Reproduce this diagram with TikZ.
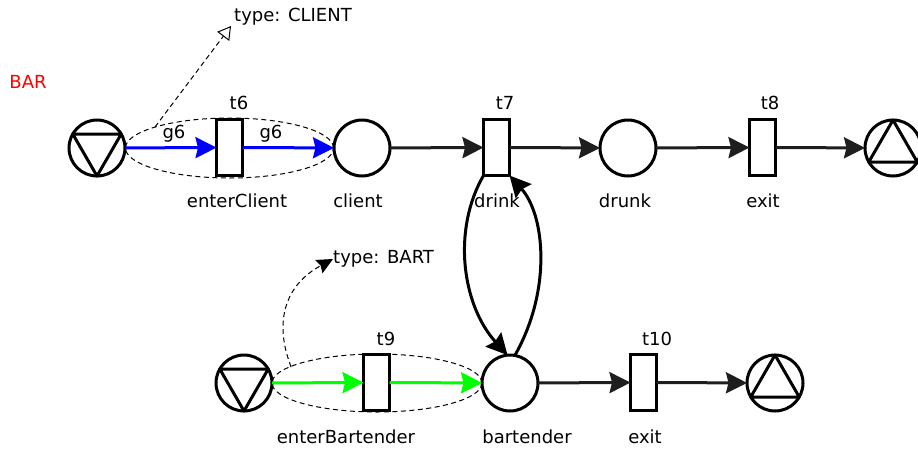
\documentclass[tikz,border=0pt]{standalone}
\usepackage{fontspec}
\setmainfont{DejaVu Sans}
\usetikzlibrary{arrows.meta}
\definecolor{arcgray}{HTML}{1E1E1E}
\begin{document}
\begin{tikzpicture}[x=1pt,y=-1pt,font=\fontsize{18}{20}\selectfont,
  place/.style={circle,draw,line width=3pt,minimum size=56pt,inner sep=0pt,outer sep=0pt},
  trans/.style={rectangle,draw,line width=3pt,minimum width=26pt,minimum height=56pt,inner sep=0pt,outer sep=0pt},
  flow/.style={line width=3pt,draw=arcgray,-{Stealth[length=21pt,width=21pt,inset=2.5pt]}},
  bflow/.style={flow,draw=blue,-{Stealth[length=21pt,width=21pt,inset=2.5pt,fill=blue]}},
  gflow/.style={flow,draw=green,-{Stealth[length=21pt,width=21pt,inset=2.5pt,fill=green]}},
  loopflow/.style={line width=3pt,draw=black,-{Stealth[length=21pt,width=21pt,inset=2.5pt]}},
  group/.style={draw,dashed,dash pattern=on 5pt off 3.5pt,line width=1pt},
  lbl/.style={inner sep=0pt,anchor=center},
  tri/.style={line width=3pt,line join=round}]
\useasboundingbox (0,0) rectangle (918,448);

% places and transitions, top row
\node[place] (s1) at (97,148) {};
\node[trans] (t6) at (229.5,147.5) {};
\node[place] (client) at (362,148) {};
\node[trans] (t7) at (496.5,147.5) {};
\node[place] (drunk) at (628,148) {};
\node[trans] (t8) at (762.5,147.5) {};
\node[place] (e1) at (893,148) {};

% bottom row
\node[place] (s2) at (244,383) {};
\node[trans] (t9) at (376.5,382.5) {};
\node[place] (bartender) at (510,383) {};
\node[trans] (t10) at (643.5,382.5) {};
\node[place] (e2) at (775,383) {};

% triangles
\draw[tri] ([shift={(-90:28pt)}]s1.center) -- ([shift={(30:28pt)}]s1.center) -- ([shift={(150:28pt)}]s1.center) -- cycle;
\draw[tri] ([shift={(-90:28pt)}]s2.center) -- ([shift={(30:28pt)}]s2.center) -- ([shift={(150:28pt)}]s2.center) -- cycle;
\draw[tri] ([shift={(90:28pt)}]e1.center) -- ([shift={(-30:28pt)}]e1.center) -- ([shift={(210:28pt)}]e1.center) -- cycle;
\draw[tri] ([shift={(90:28pt)}]e2.center) -- ([shift={(-30:28pt)}]e2.center) -- ([shift={(210:28pt)}]e2.center) -- cycle;

% labels
\node[lbl,text=red] (bar) at (28,82) {BAR};
\node[lbl] (lt6) at (239,103) {t6};
\node[lbl] (lt7) at (505,103) {t7};
\node[lbl] (lt8) at (770,103) {t8};
\node[lbl] (lenc) at (237,201) {enterClient};
\node[lbl] (lcl) at (358,201) {client};
\node[lbl] (ldr) at (497,201) {drink};
\node[lbl] (ldk) at (625,201) {drunk};
\node[lbl] (lex1) at (763,201) {exit};
\node[lbl] (lt9) at (386,339) {t9};
\node[lbl] (lt10) at (657,339) {t10};
\node[lbl] (lenb) at (346,437) {enterBartender};
\node[lbl] (lbt) at (527,437) {bartender};
\node[lbl] (lex2) at (645,437) {exit};
\node[lbl] (g6a) at (174,134) {g6};
\node[lbl] (g6b) at (271,134) {g6};
\node[lbl,anchor=west] (tcl) at (234,17) {type: CLIENT};
\node[lbl,anchor=west] (tbt) at (333,259) {type: BART};

% dashed groups
\draw[group] (229.5,148) ellipse [x radius=104pt, y radius=30pt];
\draw[group] (377,383) ellipse [x radius=105pt, y radius=29pt];
\coordinate (gc) at (155,127);
\coordinate (gb) at (291,367);
\coordinate (gt) at (231,26);
\draw[group,-{Triangle[open,length=13pt,width=15pt]}] (gc) -- (gt);
\draw[group,-{Stealth[length=16pt,width=15pt,inset=2pt]}] (gb) -- (288,358) .. controls (276,320) and (285,285) .. (tbt.west);

% arcs
\draw[bflow] (s1) -- (t6);
\draw[bflow] (t6) -- (client);
\draw[flow] (client) -- (t7);
\draw[flow] (t7) -- (drunk);
\draw[flow] (drunk) -- (t8);
\draw[flow] (t8) -- (e1);
\draw[gflow] (s2) -- (t9);
\draw[gflow] (t9) -- (bartender);
\draw[flow] (bartender) -- (t10);
\draw[flow] (t10) -- (e2);
\draw[loopflow] (t7.south west) .. controls (452,230) and (462,305) .. (bartender.95);
\draw[loopflow] (bartender.80) .. controls (552,290) and (545,215) .. (t7.south east);
\end{tikzpicture}
\end{document}
